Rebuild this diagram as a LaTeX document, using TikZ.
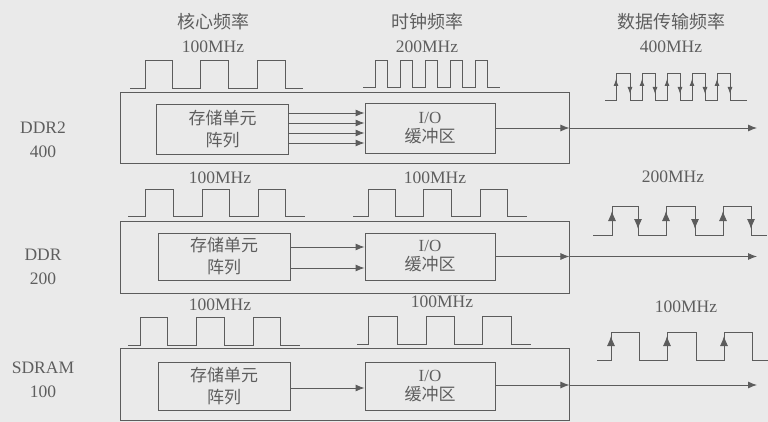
\documentclass[tikz,border=0pt]{standalone}
\usepackage{fontspec}
\setmainfont{Liberation Serif}
\newfontfamily\cjk{Noto Sans CJK SC}
\usetikzlibrary{arrows.meta}
\definecolor{bg}{HTML}{EAEAEA}
\definecolor{ln}{HTML}{5C5C5C}
\definecolor{tx}{HTML}{5E5E5E}
\begin{document}
\begin{tikzpicture}[x=1pt,y=-1pt,
  wave/.style={draw=ln,line width=0.9pt},
  box/.style={draw=ln,line width=0.9pt,rectangle,inner sep=0pt},
  outerbox/.style={box,minimum width=449pt,minimum height=71pt},
  membox/.style={box,minimum width=132pt,minimum height=50pt,align=center,text=tx,font=\cjk\fontsize{17}{22}\selectfont},
  iobox/.style={box,minimum width=130pt,minimum height=50pt,align=center,text=tx,font=\fontsize{17}{19}\selectfont},
  arr/.style={draw=ln,line width=0.9pt,-{Latex[length=9pt,width=7pt]}},
  mkbig/.style={draw=ln,line width=0.9pt,-{Latex[length=10pt,width=8pt]}},
  mksmall/.style={draw=ln,line width=0.9pt,-{Latex[length=7pt,width=5pt]}},
  lbl/.style={text=tx,font=\fontsize{17.5}{24}\selectfont,inner sep=0pt,align=center},
  clbl/.style={text=tx,font=\cjk\fontsize{18}{20}\selectfont,inner sep=0pt}]
\fill[bg] (0,0) rectangle (768,422);
\useasboundingbox (0,0) rectangle (768,422);

% headers
\node[clbl] (h1) at (213,22) {核心频率};
\node[lbl]  (f1) at (213,47) {100MHz};
\node[clbl] (h2) at (427,22) {时钟频率};
\node[lbl]  (f2) at (427,47) {200MHz};
\node[clbl] (h3) at (671,22) {数据传输频率};
\node[lbl]  (f3) at (671,47) {400MHz};

% row labels
\node[lbl] (r1) at (43,140) {DDR2\\400};
\node[lbl] (r2) at (43,267) {DDR\\200};
\node[lbl] (r3) at (43,380) {SDRAM\\100};

% ===== Row 1: DDR2 400 =====
\node[outerbox] (out1) at (344.5,127.5) {};
\node[membox] (mem1) at (222.5,129) {存储单元\\阵列};
\node[iobox] (io1) at (430,128) {I/O\\{\cjk 缓冲区}};
\foreach \yy in {113,123,133,143}
  \draw[arr] (mem1.east |- 0,\yy) -- (io1.west |- 0,\yy);
\coordinate (e1) at (757,128);
\draw[arr] (io1.east) -- (io1.east -| out1.east);
\draw[arr] (io1.east -| out1.east) -- (e1);

\draw[wave] (130,88) foreach \r/\f in {145/172,200/228,257/285}{ -- (\r,88) -- (\r,60) -- (\f,60) -- (\f,88)} -- (303,88);
\draw[wave] (363,87) foreach \r/\f in {375/387,400/412,425/437,450/462,475/487}{ -- (\r,87) -- (\r,60) -- (\f,60) -- (\f,87)} -- (500,87);
\draw[wave] (605,100) foreach \r/\f in {616/630,642/655,667/680,692/705,717/730}{ -- (\r,100) -- (\r,73) -- (\f,73) -- (\f,100)} -- (747,100);
\foreach \xx in {616,642,667,692,717} \draw[mksmall] (\xx,90) -- (\xx,79);
\foreach \xx in {630,655,680,705,730} \draw[mksmall] (\xx,83) -- (\xx,94);

% ===== Row 2: DDR 200 =====
\node[lbl] (g1) at (220,178) {100MHz};
\node[lbl] (g2) at (435,178) {100MHz};
\node[lbl] (g3) at (673,177) {200MHz};
\node[outerbox,minimum height=72pt] (out2) at (344.5,257) {};
\node[membox,minimum height=47pt] (mem2) at (224,256.5) {存储单元\\阵列};
\node[iobox,minimum height=47pt] (io2) at (430,256.5) {I/O\\{\cjk 缓冲区}};
\foreach \yy in {247,268}
  \draw[arr] (mem2.east |- 0,\yy) -- (io2.west |- 0,\yy);
\coordinate (e2) at (757,256.5);
\draw[arr] (io2.east) -- (io2.east -| out2.east);
\draw[arr] (io2.east -| out2.east) -- (e2);

\draw[wave] (128,216) foreach \r/\f in {145/173,202/229,258/285}{ -- (\r,216) -- (\r,189) -- (\f,189) -- (\f,216)} -- (305,216);
\draw[wave] (353,216) foreach \r/\f in {368/395,423/451,480/507}{ -- (\r,216) -- (\r,189) -- (\f,189) -- (\f,216)} -- (527,216);
\draw[wave] (593,235) foreach \r/\f in {612/638,666/695,723/751}{ -- (\r,235) -- (\r,206) -- (\f,206) -- (\f,235)} -- (767,235);
\foreach \xx in {612,666,723} \draw[mkbig] (\xx,225) -- (\xx,211);
\foreach \xx in {638,695,751} \draw[mkbig] (\xx,215) -- (\xx,229);

% ===== Row 3: SDRAM 100 =====
\node[lbl] (k1) at (220,305) {100MHz};
\node[lbl] (k2) at (442,302) {100MHz};
\node[lbl] (k3) at (686,307) {100MHz};
\node[outerbox,minimum height=72pt] (out3) at (344.5,384) {};
\node[membox,minimum height=48pt] (mem3) at (224,386) {存储单元\\阵列};
\node[iobox,minimum height=48pt] (io3) at (430,386) {I/O\\{\cjk 缓冲区}};
\draw[arr] (mem3.east |- 0,388) -- (io3.west |- 0,388);
\coordinate (e3) at (757,385);
\draw[arr] (io3.east |- 0,385) -- (out3.east |- 0,385);
\draw[arr] (out3.east |- 0,385) -- (e3);

\draw[wave] (128,345) foreach \r/\f in {140/167,196/224,253/280}{ -- (\r,345) -- (\r,317) -- (\f,317) -- (\f,345)} -- (300,345);
\draw[wave] (357,344) foreach \r/\f in {368/397,426/454,482/511}{ -- (\r,344) -- (\r,316) -- (\f,316) -- (\f,344)} -- (531,344);
\draw[wave] (597,360) foreach \r/\f in {611/639,667/696,724/752}{ -- (\r,360) -- (\r,332) -- (\f,332) -- (\f,360)} -- (768,360);
\foreach \xx in {611,667,724} \draw[mkbig] (\xx,350) -- (\xx,336);
\end{tikzpicture}
\end{document}
